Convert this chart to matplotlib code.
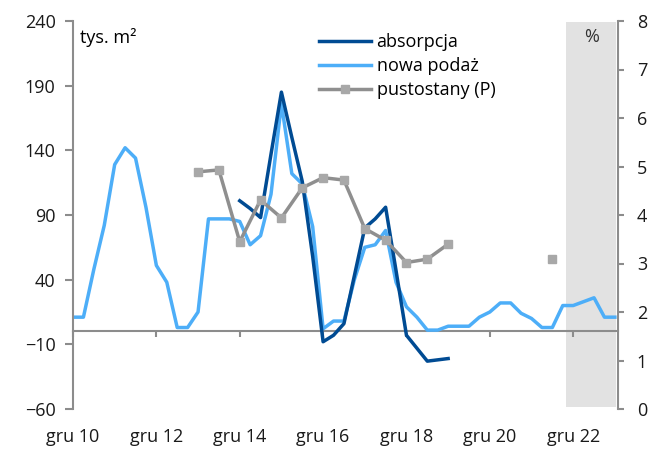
import numpy as np
import matplotlib
matplotlib.use("Agg")
import matplotlib.pyplot as plt

# dane kwartalne: indeks 0 = gru 10, indeks 52 = gru 23
nowa_podaz = [11, 11, 48, 82, 129, 142, 134, 96, 51, 38,
              3, 3, 15, 87, 87, 87, 85, 67, 74, 106,
              176, 122, 114, 81, 2, 8, 8, 40, 65, 67,
              78, 38, 19, 11, 1, 1, 4, 4, 4, 11,
              15, 22, 22, 14, 10, 3, 3, 20, 20, 23,
              26, 11, 11]

absorpcja_start = 16
absorpcja = [101, 95, 88, 137, 185, 150, 116, 58, -8, -3,
             6, 43, 80, 87, 96, 47, -3, -13, -23, -22, -21]

# pustostany co pół roku (prawa oś, %)
pustostany_q = list(range(12, 47, 2))
pustostany = [4.89, 4.93, 3.45, 4.31, 3.94, 4.56, 4.77, 4.72, 3.72,
              3.48, 3.02, 3.09, 3.40, np.nan, np.nan, np.nan, np.nan, 3.09]

tick_q = [0, 8, 16, 24, 32, 40, 48]
tick_labels = ["gru 10", "gru 12", "gru 14", "gru 16", "gru 18", "gru 20", "gru 22"]

prognoza_od, prognoza_do = 47.3, 52.1

plt.rcParams['font.family'] = ['Open Sans', 'DejaVu Sans']
plt.rcParams['font.size'] = 13

ciemny = '#004B93'
jasny = '#4DAEF8'
szary = '#8F8F8F'
os_kolor = '#8C8C8C'

fig = plt.figure(figsize=(6.53, 4.5), dpi=100)
ax = fig.add_axes([73 / 653, 1 - 409 / 450, (618 - 73) / 653, (409 - 21) / 450])
ax2 = ax.twinx()

# szare tło prognozy
ax.axvspan(prognoza_od, prognoza_do, ymin=0.006, ymax=0.998, color='#E2E2E2', lw=0, zorder=0)

x = np.arange(len(nowa_podaz))
x_abs = np.arange(absorpcja_start, absorpcja_start + len(absorpcja))
l1, = ax.plot(x_abs, absorpcja, color=ciemny, lw=2.5, label='absorpcja', zorder=3)
l2, = ax.plot(x, nowa_podaz, color=jasny, lw=2.5, label='nowa podaż', zorder=2)
l3, = ax2.plot(pustostany_q, pustostany, color=szary, lw=2.5, marker='s', ms=5.5,
               mfc='#A8A8A8', mec='#A8A8A8', label='pustostany (P)')

ax.set_xlim(0, 52.3)
ax.set_ylim(-60, 240)
ax.set_yticks(np.arange(-60, 241, 50))
ax2.set_ylim(0, 8)
ax2.set_yticks(range(0, 9))

for a in (ax, ax2):
    for s in a.spines.values():
        s.set_visible(False)
ax.spines['left'].set_visible(True)
ax.spines['left'].set_color(os_kolor)
ax.spines['left'].set_linewidth(1.5)
ax2.spines['right'].set_visible(True)
ax2.spines['right'].set_color(os_kolor)
ax2.spines['right'].set_linewidth(1.5)

ax.tick_params(axis='y', direction='out', length=5.5, width=1.5, color=os_kolor,
               pad=7, labelcolor='#1A1A1A')
ax2.tick_params(axis='y', direction='out', length=4.5, width=1.5, color=os_kolor,
                pad=9, labelcolor='#1A1A1A')

# etykiety osi X na dole, kreski na linii zera
ax.set_xticks(tick_q, tick_labels)
ax.tick_params(axis='x', length=0, pad=14, labelcolor='#1A1A1A')
zero = ax.secondary_xaxis(0.2)
zero.set_xticks(tick_q)
zero.tick_params(axis='x', length=4.5, width=1.5, color=os_kolor, labelbottom=False)
zero.spines['bottom'].set_color(os_kolor)
zero.spines['bottom'].set_linewidth(1.5)

ax.text(0.012, 0.982, 'tys. m²', transform=ax.transAxes, va='top', ha='left')
ax.text(0.952, 0.982, '%', transform=ax.transAxes, va='top', ha='center', color='#333333')

ax.legend(handles=[l1, l2, l3], loc='upper left', bbox_to_anchor=(0.441, 0.983),
          frameon=False, handlelength=2.9, handletextpad=0.3, labelspacing=0.34,
          borderpad=0.3, borderaxespad=0)

fig.savefig('out.png', dpi=100)
